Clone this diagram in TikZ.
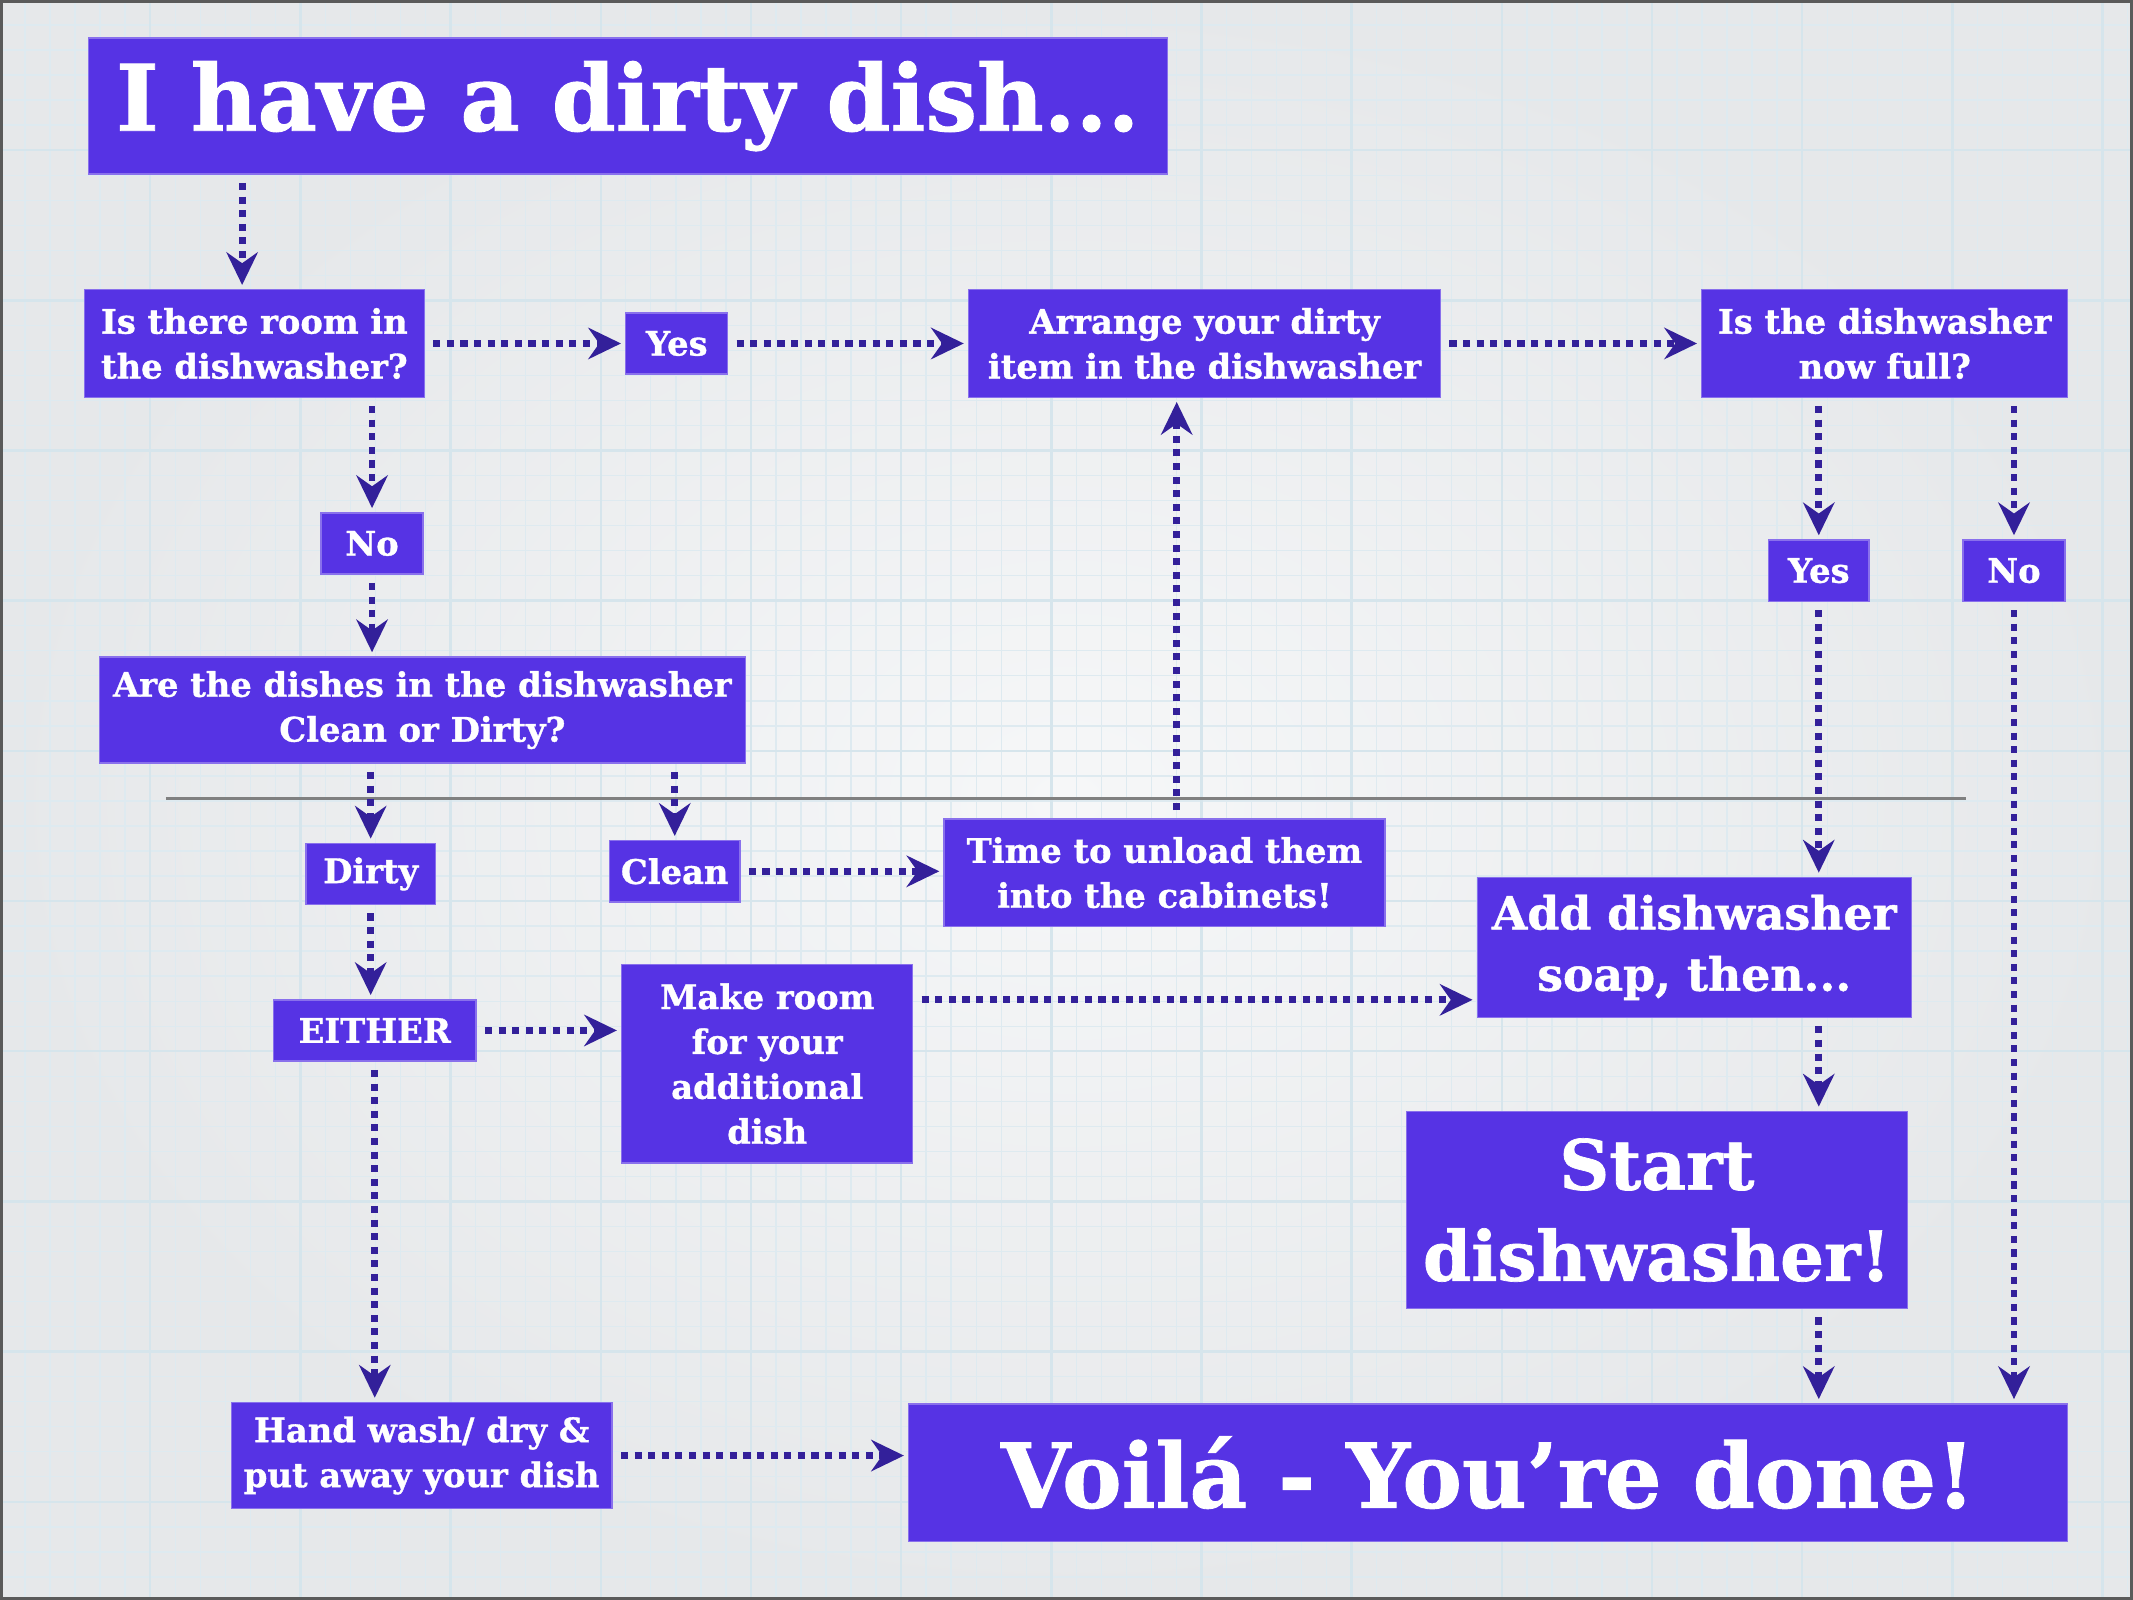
\documentclass[tikz,border=0pt]{standalone}
\usepackage{fontspec}
\setmainfont{DejaVu Serif}[BoldFeatures={FakeBold=1}]
\usepackage{xcolor}
\usepackage{tikz}
\usetikzlibrary{arrows.meta,calc}

\definecolor{dishblue}{HTML}{5633E4}
\definecolor{flowink}{HTML}{33209A}
\definecolor{paperin}{HTML}{F6F7F8}
\definecolor{paperout}{HTML}{E6E8EA}
\definecolor{gridblue}{HTML}{D6E5EC}
\definecolor{framegray}{HTML}{5A5A5A}

\begin{document}
\begin{tikzpicture}[x=0.5pt,y=-0.5pt,
	box/.style={fill=dishblue,draw=dishblue!70!white,line width=0.5pt,text=white,align=center,inner sep=0pt,font=\bfseries\fontsize{12.4}{16.5}\selectfont},
	tag/.style={box,minimum height=22.5pt},
	flow/.style={draw=flowink,line width=2.5pt,dash pattern=on 2.6pt off 2.4pt,shorten <=3pt,shorten >=1.5pt,-{Stealth[length=12pt,width=11.5pt,inset=4pt]}}]
	\useasboundingbox (0,0) rectangle (1568,1176);
	\shade[inner color=paperin,outer color=paperout] (0,0) rectangle (1568,1176);
	\draw[gridblue!80!white,line width=0.5pt,step=9.2pt] (0pt,-588pt) grid (784pt,0pt);
	\draw[gridblue,line width=0.9pt,step=55.2pt] (0pt,-588pt) grid (784pt,0pt);
	\draw[framegray,line width=2pt] (0,0) rectangle (1568,1176);
	\draw[gray,line width=0.8pt] (122,587) -- (1445,587);

	\node[box,font=\bfseries\fontsize{33.7}{36}\selectfont,minimum width=396.5pt,minimum height=50pt] (dirtydish) at (461.5,78) {I have a dirty dish...};
	\node[box,minimum width=125pt,minimum height=39.5pt] (room) at (187,252.5) {Is there room in\\the dishwasher?};
	\node[tag,minimum width=37.5pt] (yesroom) at (497.5,252.5) {Yes};
	\node[box,minimum width=173.5pt,minimum height=39.5pt] (arrange) at (885.5,252.5) {Arrange your dirty\\item in the dishwasher};
	\node[box,minimum width=134.5pt,minimum height=39.5pt] (full) at (1385.5,252.5) {Is the dishwasher\\now full?};
	\node[tag,minimum width=37pt] (yesfull) at (1337,419.5) {Yes};
	\node[tag,minimum width=37.5pt] (nofull) at (1480.5,419.5) {No};
	\node[tag,minimum width=37.5pt] (noroom) at (273.5,399.5) {No};
	\node[box,minimum width=237.5pt,minimum height=39pt] (state) at (310.5,522) {Are the dishes in the dishwasher\\Clean or Dirty?};
	\node[tag,minimum width=47.5pt] (dirty) at (272.5,642.5) {Dirty};
	\node[tag,minimum width=48pt] (clean) at (496,640.5) {Clean};
	\node[box,minimum width=162pt,minimum height=39.5pt] (unload) at (856,641.5) {Time to unload them\\into the cabinets!};
	\node[tag,minimum width=74.5pt] (either) at (275.5,757.5) {EITHER};
	\node[box,minimum width=107pt,minimum height=73pt] (makeroom) at (564,782) {Make room\\for your\\additional\\dish};
	\node[box,font=\bfseries\fontsize{16.8}{22.5}\selectfont,minimum width=159.5pt,minimum height=51.5pt] (soap) at (1245.5,696.5) {Add dishwasher\\soap, then...};
	\node[box,font=\bfseries\fontsize{25.4}{33.5}\selectfont,minimum width=184pt,minimum height=72.5pt] (start) at (1218,889.5) {Start\\dishwasher!};
	\node[box,minimum width=140pt,minimum height=39pt] (handwash) at (310,1070) {Hand wash/ dry \&\\put away your dish};
	\node[box,font=\bfseries\fontsize{32.8}{36}\selectfont,minimum width=426pt,minimum height=50.5pt] (done) at (1094,1082.5) {Voilá - You’re done!};

	\coordinate (dishdrop) at ($(room.north)+(-9,0)$);
	\coordinate (unloadup) at ($(unload.north)+(9,0)$);
	\coordinate (roomout) at ($(makeroom.east)+(0,-47)$);
	\draw[flow] (dirtydish.south -| dishdrop) -- (dishdrop);
	\draw[flow] (room.east) -- (yesroom.west);
	\draw[flow] (yesroom.east) -- (arrange.west);
	\draw[flow] (arrange.east) -- (full.west);
	\draw[flow] (full.south -| yesfull) -- (yesfull.north);
	\draw[flow] (full.south -| nofull) -- (nofull.north);
	\draw[flow] (room.south -| noroom) -- (noroom.north);
	\draw[flow] (noroom.south) -- (noroom.south |- state.north);
	\draw[flow] (state.south -| dirty) -- (dirty.north);
	\draw[flow] (state.south -| clean) -- (clean.north);
	\draw[flow] (clean.east) -- (clean.east -| unload.west);
	\draw[flow] (unloadup) -- (unloadup |- arrange.south);
	\draw[flow] (dirty.south) -- (dirty.south |- either.north);
	\draw[flow] (either.east) -- (either.east -| makeroom.west);
	\draw[flow] (roomout) -- (roomout -| soap.west);
	\draw[flow] (yesfull.south) -- (yesfull.south |- soap.north);
	\draw[flow] (soap.south -| yesfull) -- (start.north -| yesfull);
	\draw[flow] (start.south -| yesfull) -- (done.north -| yesfull);
	\draw[flow] (nofull.south) -- (nofull.south |- done.north);
	\draw[flow] (either.south) -- (either.south |- handwash.north);
	\draw[flow] (handwash.east) -- (handwash.east -| done.west);
\end{tikzpicture}
\end{document}
